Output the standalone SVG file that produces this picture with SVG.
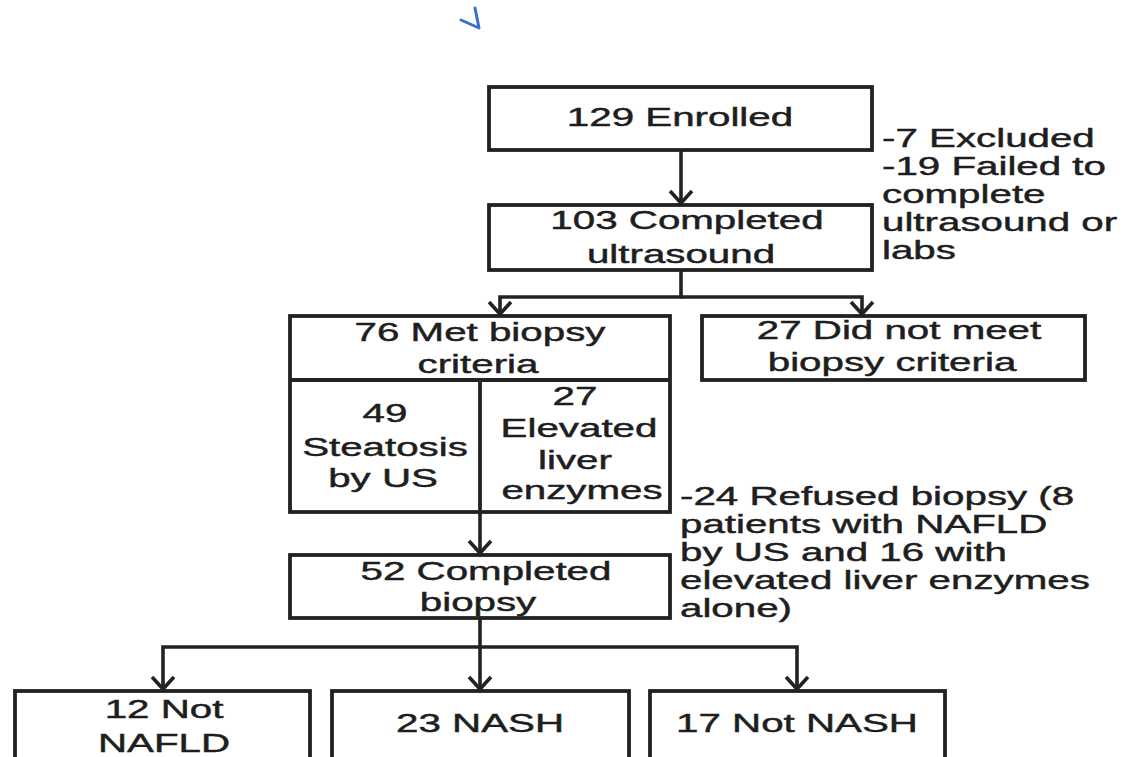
<svg xmlns="http://www.w3.org/2000/svg" width="1125" height="757" viewBox="0 0 1125 757">
<style>
  .box { fill: #fff; stroke: #222; stroke-width: 3.8; }
  .div { stroke: #222; stroke-width: 3.8; fill: none; }
  .conn { stroke: #222; stroke-width: 3.6; fill: none; }
  text { font-family: "Liberation Sans", Arial, sans-serif; font-size: 26px; fill: #1e1e1e; stroke: #1e1e1e; stroke-width: 0.45; }
  .c { text-anchor: middle; }
</style>
<defs>
  <marker id="arr" markerUnits="userSpaceOnUse" markerWidth="18" markerHeight="28" viewBox="-15 -14 17 28" refX="0" refY="0" orient="auto">
    <path d="M-12,-11 L0,0 L-12,11" fill="none" stroke="#222" stroke-width="3.6"/>
  </marker>
</defs>
<rect width="1125" height="757" fill="#fff"/>
<path d="M461,20 L479,28 L475,8" fill="none" stroke="#3a6fd0" stroke-width="3" stroke-linecap="round" stroke-linejoin="round"/>

<g id="connectors">
  <line class="conn" x1="681" y1="151" x2="681" y2="203" marker-end="url(#arr)"/>
  <path class="conn" d="M681,270 V297 H500 V314" marker-end="url(#arr)"/>
  <path class="conn" d="M681,297 H862 V314" marker-end="url(#arr)"/>
  <line class="conn" x1="480" y1="512" x2="480" y2="553" marker-end="url(#arr)"/>
  <path class="conn" d="M480,618 V647 H163 V689" marker-end="url(#arr)"/>
  <line class="conn" x1="480" y1="647" x2="480" y2="689" marker-end="url(#arr)"/>
  <path class="conn" d="M480,647 H797 V689" marker-end="url(#arr)"/>
</g>

<g id="enrolled">
  <rect class="box" x="489" y="87" width="383" height="63"/>
  <text class="c" transform="translate(680,126) scale(1.55,1)">129 Enrolled</text>
</g>
<g id="excluded-note">
  <text transform="translate(882,147) scale(1.55,1)">-7 Excluded</text>
  <text transform="translate(882,175) scale(1.55,1)">-19 Failed to</text>
  <text transform="translate(882,203) scale(1.55,1)">complete</text>
  <text transform="translate(882,231) scale(1.55,1)">ultrasound or</text>
  <text transform="translate(882,259) scale(1.55,1)">labs</text>
</g>
<g id="completed-us">
  <rect class="box" x="489" y="205" width="383" height="65"/>
  <text class="c" transform="translate(687,229) scale(1.55,1)">103 Completed</text>
  <text class="c" transform="translate(681,263) scale(1.55,1)">ultrasound</text>
</g>
<g id="met-criteria">
  <rect class="box" x="290" y="316" width="380" height="196"/>
  <line class="div" x1="290" y1="380" x2="670" y2="380"/>
  <line class="div" x1="480" y1="380" x2="480" y2="512"/>
  <text class="c" transform="translate(480,341) scale(1.55,1)">76 Met biopsy</text>
  <text class="c" transform="translate(478,373) scale(1.55,1)">criteria</text>
</g>
<g id="steatosis">
  <text class="c" transform="translate(385,422) scale(1.55,1)">49</text>
  <text class="c" transform="translate(385,456) scale(1.55,1)">Steatosis</text>
  <text class="c" transform="translate(383,487) scale(1.55,1)">by US</text>
</g>
<g id="elevated">
  <text class="c" transform="translate(575,405) scale(1.55,1)">27</text>
  <text class="c" transform="translate(579,437) scale(1.55,1)">Elevated</text>
  <text class="c" transform="translate(575,469) scale(1.55,1)">liver</text>
  <text class="c" transform="translate(582,499) scale(1.55,1)">enzymes</text>
</g>
<g id="not-met">
  <rect class="box" x="702" y="316" width="383" height="64"/>
  <text class="c" transform="translate(899,339) scale(1.55,1)">27 Did not meet</text>
  <text class="c" transform="translate(892,371) scale(1.55,1)">biopsy criteria</text>
</g>
<g id="refused-note">
  <text transform="translate(680,505) scale(1.55,1)">-24 Refused biopsy (8</text>
  <text transform="translate(680,533) scale(1.55,1)">patients with NAFLD</text>
  <text transform="translate(680,561) scale(1.55,1)">by US and 16 with</text>
  <text transform="translate(680,589) scale(1.55,1)">elevated liver enzymes</text>
  <text transform="translate(680,617) scale(1.55,1)">alone)</text>
</g>
<g id="completed-biopsy">
  <rect class="box" x="290" y="555" width="380" height="63"/>
  <text class="c" transform="translate(486,580) scale(1.55,1)">52 Completed</text>
  <text class="c" transform="translate(478,611) scale(1.55,1)">biopsy</text>
</g>
<g id="not-nafld">
  <rect class="box" x="15" y="691" width="295" height="90"/>
  <text class="c" transform="translate(164,718) scale(1.55,1)">12 Not</text>
  <text class="c" transform="translate(164,752) scale(1.55,1)">NAFLD</text>
</g>
<g id="nash">
  <rect class="box" x="332" y="691" width="297" height="90"/>
  <text class="c" transform="translate(480,732) scale(1.55,1)">23 NASH</text>
</g>
<g id="not-nash">
  <rect class="box" x="650" y="691" width="295" height="90"/>
  <text class="c" transform="translate(797,732) scale(1.55,1)">17 Not NASH</text>
</g>
</svg>
